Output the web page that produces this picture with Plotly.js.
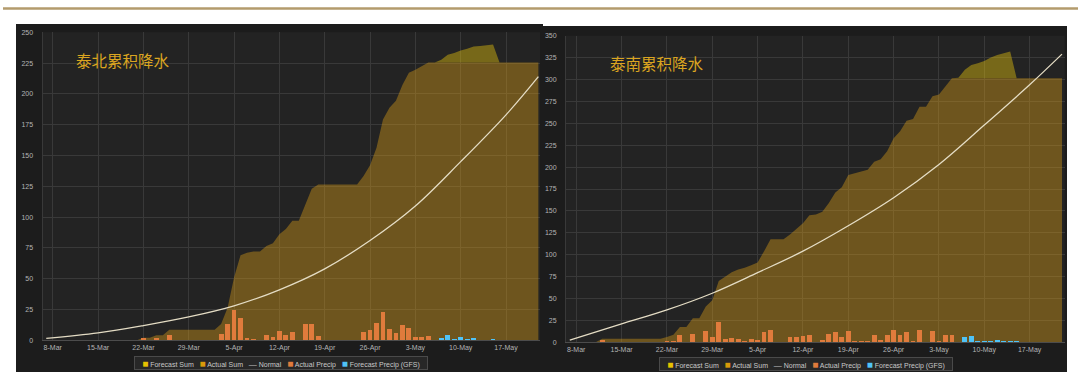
<!DOCTYPE html>
<html>
<head>
<meta charset="utf-8">
<script src="https://cdn.plot.ly/plotly-3.0.1.min.js"></script>
<style>
  html, body { margin: 0; padding: 0; background: #ffffff; }
  #chart { width: 1081px; height: 376px; }
</style>
</head>
<body>
<div id="chart"></div>
<script>
// ---------------- DATA ----------------
const seriesStart = '2024-03-07';     // first daily point of every daily series
const forecastSumStart = '2024-05-05';
const forecastBarStart = '2024-05-06';

const tickDates  = ['2024-03-08','2024-03-15','2024-03-22','2024-03-29','2024-04-05','2024-04-12','2024-04-19','2024-04-26','2024-05-03','2024-05-10','2024-05-17'];
const tickLabels = ['8-Mar','15-Mar','22-Mar','29-Mar','5-Apr','12-Apr','19-Apr','26-Apr','3-May','10-May','17-May'];

const normalDates = ['2024-03-07','2024-03-15','2024-03-22','2024-03-29','2024-04-05','2024-04-12','2024-04-19','2024-04-26','2024-05-03','2024-05-10','2024-05-17','2024-05-22'];

// 泰北 (north) — daily, Mar 7 .. May 22
const northActualSum = [
  0,0,0,0,0,0,0,0,0,0,0,0,0,0,0,            // Mar 7-21
  2,2,4,4,8.5,8.5,8.5,8.5,8.5,8.5,           // Mar 22-31
  8.5,8.5,13.2,26.4,51,69,71,72,72,76.5,      // Apr 1-10
  78.8,86,90.3,97,97,110,123,126.5,126.5,126.5, // Apr 11-20
  126.5,126.5,126.5,126.5,133.3,142,156.3,179.3,188.8,194.5, // Apr 21-30
  207.2,217.2,219.6,222.5,225.5,225.5,225.5,225.5,225.5,225.5, // May 1-10
  225.5,225.5,225.5,225.5,225.5,225.5,225.5,225.5,225.5,225.5,225.5,225.5 // May 11-22
];
// Mar 7 .. May 5
const northActualPrecip = [
  0,0,0,0,0,0,0,0,0,0,0,0,0,0,0,             // Mar 7-21
  2,0,2,0,4.5,0,0,0,0,0,                      // Mar 22-31
  0,0,4.8,13.2,24.6,18,1.8,0.8,0,4.6,         // Apr 1-10
  2.3,7.2,4.3,6.8,0,13,13,3.8,0,0,            // Apr 11-20
  0,0,0,0,6.8,8.7,14.3,23,9.5,5.7,            // Apr 21-30
  12.7,10,2.4,2.9,3.5                         // May 1-5
];
// May 5 .. May 16
const northForecastSum = [225.5,225.5,227.7,231.7,233.1,235.3,236.7,238.4,238.8,239.2,240,225.5];
// May 6 .. May 15
const northForecastPrecip = [0,2.2,4,1.4,2.4,1.4,1.9,0.4,0.4,0.8];
const northNormal = [1.5,6,12,19,28,41,58,81,109,145,183,214];

// 泰南 (south) — daily, Mar 7 .. May 22
const southActualSum = [
  0,0,0,0,0,                                  // Mar 7-11
  4,4,4,4,4,4,4,4,4,4,                        // Mar 12-21
  6,8.5,17.5,17.5,27.5,27.5,41,48,70,75,      // Mar 22-31
  80,83,85,88,91,104,117.5,117.5,117.5,123,   // Apr 1-10
  129,136,145,146,149,159,171,177,191,193,    // Apr 11-20
  195,197,206,209,218,233,241,253,255,269,    // Apr 21-30
  269,281,283,292,301.4,301.4,301.4,301.4,301.4,301.4, // May 1-10
  301.4,301.4,301.4,301.4,301.4,301.4,301.4,301.4,301.4,301.4,301.4,301.4 // May 11-22
];
// Mar 7 .. May 5
const southActualPrecip = [
  0,0,0,0,0,3,0,0,0,0,0,0,0,0,0,              // Mar 7-21
  1.9,1.9,8.75,0,9.1,0,12.6,5.7,23.2,4.2,     // Mar 22-31
  5.3,3.8,1.9,4.2,3,12.2,14.1,0,0,6.1,        // Apr 1-10
  6.1,6.8,8.75,0,2.7,9.9,11.4,6.1,13.3,1.9,   // Apr 11-20
  1.9,1.9,8.75,2.7,8,14.1,8,11.4,1.9,14.5,    // Apr 21-30
  0,12.6,1.9,8.75,8.75                        // May 1-5
];
// May 5 .. May 15
const southForecastSum = [301.4,302,311,316.5,318.5,321,325,328,330,332,301.4];
// May 6 .. May 15
const southForecastPrecip = [0,6.1,6.8,1.1,1.5,1.9,2.7,1.9,1.5,1.1];
const southNormal = [2.5,21,37,56,79.5,104,133,165,203,248,294,329];

const chartTitles = ['泰北累积降水','泰南累积降水'];
const legendNames = ['Forecast Sum','Actual Sum','Normal','Actual Precip','Forecast Precip (GFS)'];

// ---------------- STYLE ----------------
const W = 1081, H = 376;
const px = v => v / W;
const py = v => 1 - v / H;
const DAY = 86400000;
const C = {
  fcSumFill: 'rgba(236,200,12,0.42)',
  acSumFill: 'rgba(222,160,22,0.40)',
  normal: '#e4dcc4',
  acBar: '#e07b3c',
  fcBar: '#4fc3f7',
  grid: '#393939',
  tick: '#b4b4b4',
  legendSym: ['#e6c200','#d99a0a','#c8c8c8','#e07b3c','#4fc3f7']
};
const baseFont = 'Liberation Sans, Arial, sans-serif';

function buildTraces(xa, ya, yaBar, acSum, acPrecip, fcSum, fcPrecip, normal) {
  const fcIdx = Math.round((new Date(forecastSumStart) - new Date(seriesStart)) / DAY);
  return [
    { // base for forecast band (actual sum under the forecast period)
      type: 'scatter', mode: 'lines', x0: forecastSumStart, dx: DAY,
      y: acSum.slice(fcIdx, fcIdx + fcSum.length),
      line: {width: 0, color: 'rgba(0,0,0,0)'}, xaxis: xa, yaxis: ya,
      hoverinfo: 'skip', showlegend: false
    },
    {
      type: 'scatter', mode: 'lines', name: legendNames[0], x0: forecastSumStart, dx: DAY, y: fcSum,
      fill: 'tonexty', fillcolor: C.fcSumFill, line: {width: 0, color: C.fcSumFill},
      xaxis: xa, yaxis: ya, showlegend: false
    },
    {
      type: 'scatter', mode: 'lines', name: legendNames[1], x0: seriesStart, dx: DAY, y: acSum,
      fill: 'tozeroy', fillcolor: C.acSumFill, line: {width: 0, color: C.acSumFill},
      xaxis: xa, yaxis: ya, showlegend: false
    },
    {
      type: 'scatter', mode: 'lines', name: legendNames[2], x: normalDates, y: normal,
      line: {color: C.normal, width: 1.3, shape: 'spline', smoothing: 1},
      xaxis: xa, yaxis: ya, showlegend: false
    },
    {
      type: 'bar', name: legendNames[3], x0: seriesStart, dx: DAY, y: acPrecip,
      width: 0.74 * DAY, marker: {color: C.acBar, line: {width: 0}},
      xaxis: xa, yaxis: yaBar, showlegend: false
    },
    {
      type: 'bar', name: legendNames[4], x0: forecastBarStart, dx: DAY, y: fcPrecip,
      width: 0.74 * DAY, marker: {color: C.fcBar, line: {width: 0}},
      xaxis: xa, yaxis: yaBar, showlegend: false
    }
  ];
}

const data = [
  ...buildTraces('x', 'y', 'y3', northActualSum, northActualPrecip, northForecastSum, northForecastPrecip, northNormal),
  ...buildTraces('x2', 'y2', 'y4', southActualSum, southActualPrecip, southForecastSum, southForecastPrecip, southNormal)
];

function xAxis(domain, range, anchor) {
  return {
    type: 'date', domain: domain, range: range, anchor: anchor,
    tickmode: 'array', tickvals: tickDates, ticktext: tickLabels,
    showgrid: true, gridcolor: C.grid, gridwidth: 1, zeroline: false,
    showline: true, linecolor: '#4c4c4c', linewidth: 1, ticks: '',
    tickfont: {family: baseFont, size: 7, color: C.tick}, fixedrange: true
  };
}
function yAxis(domain, max, anchor) {
  return {
    domain: domain, range: [0, max], anchor: anchor, tick0: 0, dtick: 25,
    showgrid: true, gridcolor: C.grid, gridwidth: 1, zeroline: false,
    showline: true, linecolor: C.grid, ticks: '', ticklabelstandoff: 7,
    tickfont: {family: baseFont, size: 7, color: C.tick}, fixedrange: true
  };
}

function legendText() {
  const syms = ['■','■','—','■','■'];
  return legendNames.map((n, i) =>
    '<span style="color:' + C.legendSym[i] + ';font-size:' + (i === 2 ? 8 : 10) + 'px">' + syms[i] + '</span> ' + n
  ).join('&nbsp;&nbsp;&nbsp;');
}

function legendBox(cx, cy) {
  return {
    xref: 'paper', yref: 'paper', x: px(cx), y: py(cy), text: legendText(), showarrow: false,
    font: {family: baseFont, size: 7, color: '#c8c8c8'}, bgcolor: '#272727', bordercolor: '#4a4a4a',
    borderwidth: 1, borderpad: 0, width: 292, height: 12, align: 'center', valign: 'middle',
    xanchor: 'center', yanchor: 'middle'
  };
}

const layout = {
  width: W, height: H,
  margin: {l: 0, r: 0, t: 0, b: 0, pad: 0},
  paper_bgcolor: '#ffffff', plot_bgcolor: 'rgba(0,0,0,0)',
  showlegend: false, barmode: 'overlay', bargap: 0,
  xaxis:  xAxis([px(42.5), px(540)], ['2024-03-06 10:00', '2024-05-22 06:00'], 'y'),
  yaxis:  yAxis([py(340.3), py(32.3)], 250, 'x'),
  xaxis2: xAxis([px(566), px(1064.7)], ['2024-03-06 10:00', '2024-05-22 10:00'], 'y2'),
  yaxis2: yAxis([py(342.3), py(35.7)], 350, 'x2'),
  yaxis3: {overlaying: 'y', range: [0, 250], visible: false, showgrid: false, fixedrange: true},
  yaxis4: {overlaying: 'y2', range: [0, 350], visible: false, showgrid: false, fixedrange: true},
  shapes: [
    {type: 'line', xref: 'paper', yref: 'paper', x0: px(3), x1: px(1078), y0: py(8.5), y1: py(8.5),
     line: {color: '#b39b6c', width: 2.5}, layer: 'below'},
    {type: 'rect', xref: 'paper', yref: 'paper', x0: px(16), x1: px(543), y0: py(372), y1: py(24),
     fillcolor: '#1c1c1c', line: {width: 0}, layer: 'below'},
    {type: 'rect', xref: 'paper', yref: 'paper', x0: px(543), x1: px(1067), y0: py(372), y1: py(26),
     fillcolor: '#1c1c1c', line: {width: 0}, layer: 'below'},
    {type: 'rect', xref: 'paper', yref: 'paper', x0: px(42.5), x1: px(540), y0: py(340.3), y1: py(32.3),
     fillcolor: '#232323', line: {width: 0}, layer: 'below'},
    {type: 'rect', xref: 'paper', yref: 'paper', x0: px(566), x1: px(1064.7), y0: py(342.3), y1: py(35.7),
     fillcolor: '#232323', line: {width: 0}, layer: 'below'}
  ],
  annotations: [
    {xref: 'paper', yref: 'paper', x: px(123), y: py(60.5), text: chartTitles[0], showarrow: false,
     font: {family: 'Noto Sans CJK SC, sans-serif', size: 15.5, color: '#dba520'}, xanchor: 'center', yanchor: 'middle'},
    {xref: 'paper', yref: 'paper', x: px(657), y: py(62.8), text: chartTitles[1], showarrow: false,
     font: {family: 'Noto Sans CJK SC, sans-serif', size: 15.5, color: '#dba520'}, xanchor: 'center', yanchor: 'middle'},
    legendBox(281, 362.5),
    legendBox(805.5, 363.8)
  ]
};

Plotly.newPlot('chart', data, layout, {staticPlot: true, displayModeBar: false});
</script>
</body>
</html>
